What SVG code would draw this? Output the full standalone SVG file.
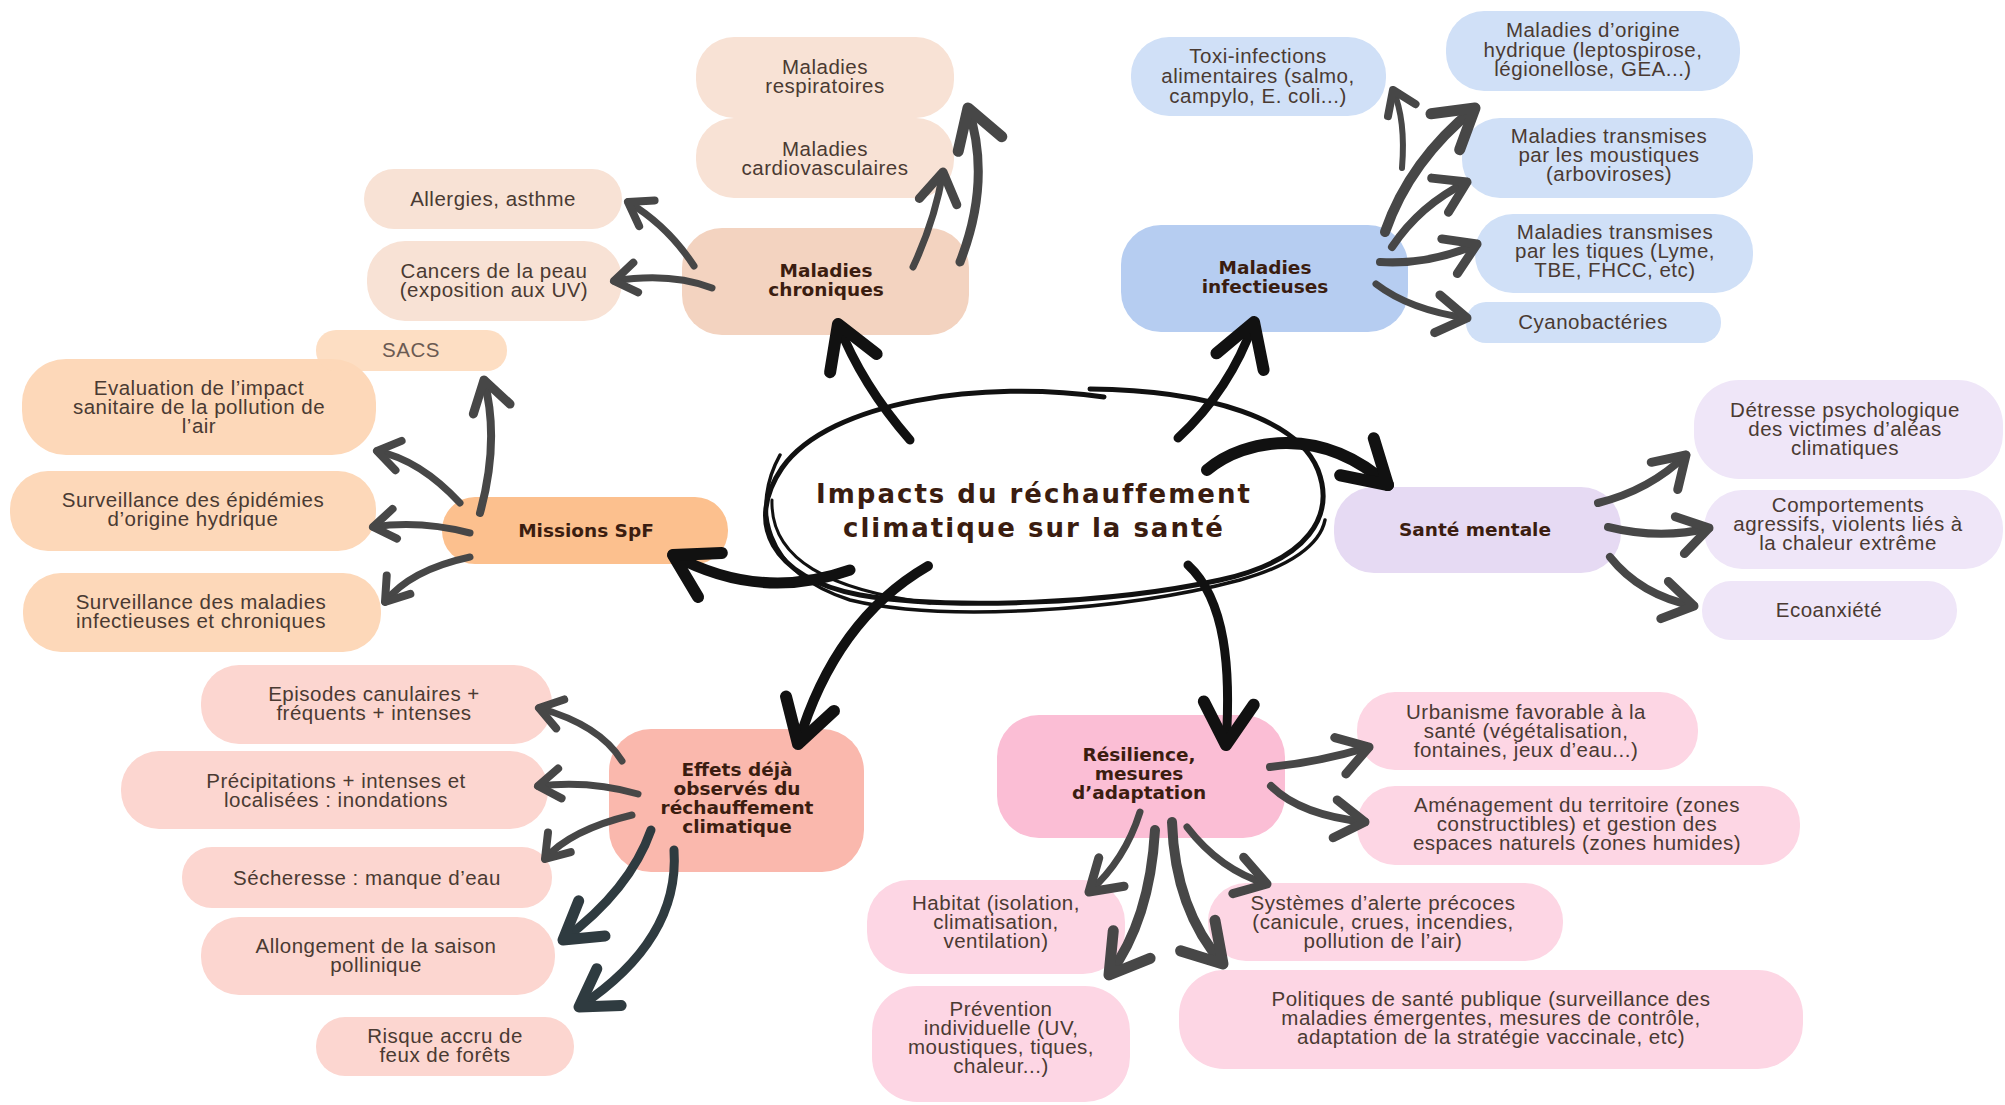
<svg xmlns="http://www.w3.org/2000/svg" width="2005" height="1105" viewBox="0 0 2005 1105">
<defs>
<style>
.t{font-family:"Liberation Sans",Arial,sans-serif;font-size:20.5px;letter-spacing:0.5px;fill:#4a3a32;text-anchor:middle}
.b{font-family:"DejaVu Sans","Liberation Sans",sans-serif;font-weight:bold;font-size:18.5px;fill:#3b1d10;text-anchor:middle}
.title{font-family:"DejaVu Sans","Liberation Sans",sans-serif;font-weight:bold;font-size:26px;letter-spacing:2px;fill:#3b1d10;text-anchor:middle}
.chrM{fill:#f3d3c0}.chr{fill:#f8e2d5}
.misM{fill:#fcc08e}.mis{fill:#fdd8b9}
.effM{fill:#fab8ad}.eff{fill:#fcd6d0}
.resM{fill:#fbbed5}.res{fill:#fdd6e4}
.infM{fill:#b6cdf1}.inf{fill:#d0e0f7}
.menM{fill:#e6daf3}.men{fill:#efe6f8}
.g{fill:none;stroke:#474747;stroke-linecap:round}
.s{fill:none;stroke:#2f3b40;stroke-linecap:round}
.k{fill:none;stroke:#111;stroke-linecap:round}
.ring{fill:none;stroke:#111;stroke-linecap:round}
</style>
<marker id="gS" markerUnits="userSpaceOnUse" orient="auto" refX="0" refY="0" markerWidth="60" markerHeight="60" overflow="visible"><path d="M-22,-15 L0,0 L-22,15" fill="none" stroke="#474747" stroke-width="8" stroke-linejoin="round" stroke-linecap="round"/></marker>
<marker id="gM" markerUnits="userSpaceOnUse" orient="auto" refX="0" refY="0" markerWidth="60" markerHeight="60" overflow="visible"><path d="M-30,-19 L0,0 L-30,19" fill="none" stroke="#474747" stroke-width="9" stroke-linejoin="round" stroke-linecap="round"/></marker>
<marker id="gL" markerUnits="userSpaceOnUse" orient="auto" refX="0" refY="0" markerWidth="80" markerHeight="80" overflow="visible"><path d="M-38,-23 L0,0 L-38,23" fill="none" stroke="#474747" stroke-width="11" stroke-linejoin="round" stroke-linecap="round"/></marker>
<marker id="sL" markerUnits="userSpaceOnUse" orient="auto" refX="0" refY="0" markerWidth="80" markerHeight="80" overflow="visible"><path d="M-36,-22 L0,0 L-36,22" fill="none" stroke="#2f3b40" stroke-width="11" stroke-linejoin="round" stroke-linecap="round"/></marker>
<marker id="bk" markerUnits="userSpaceOnUse" orient="auto" refX="0" refY="0" markerWidth="90" markerHeight="90" overflow="visible"><path d="M-42,-25 L0,0 L-42,25" fill="none" stroke="#111" stroke-width="12" stroke-linejoin="round" stroke-linecap="round"/></marker>
</defs>
<rect width="2005" height="1105" fill="#ffffff"/>

<!-- Maladies chroniques family -->
<g id="n-respiratoires"><rect class="chr" x="696" y="37" width="258" height="81" rx="38"/><text class="t"><tspan x="825" y="74">Maladies</tspan><tspan x="825" y="93">respiratoires</tspan></text></g>
<g id="n-cardio"><rect class="chr" x="696" y="118" width="258" height="80" rx="38"/><text class="t"><tspan x="825" y="156">Maladies</tspan><tspan x="825" y="175">cardiovasculaires</tspan></text></g>
<g id="n-allergies"><rect class="chr" x="364" y="169" width="258" height="60" rx="30"/><text class="t" x="493" y="206">Allergies, asthme</text></g>
<g id="n-cancers"><rect class="chr" x="367" y="241" width="255" height="80" rx="38"/><text class="t"><tspan x="494" y="278">Cancers de la peau</tspan><tspan x="494" y="297">(exposition aux UV)</tspan></text></g>
<g id="n-chroniques"><rect class="chrM" x="682" y="228" width="287" height="107" rx="40"/><text class="b"><tspan x="826" y="277">Maladies</tspan><tspan x="826" y="296">chroniques</tspan></text></g>

<!-- Missions SpF family -->
<g id="n-evaluation"><rect class="mis" x="22" y="359" width="354" height="96" rx="44"/><text class="t"><tspan x="199" y="395">Evaluation de l’impact</tspan><tspan x="199" y="414">sanitaire de la pollution de</tspan><tspan x="199" y="433">l’air</tspan></text></g>
<g id="n-sacs"><rect class="mis" x="316" y="330" width="191" height="41" rx="20" opacity="0.85"/><text class="t" x="411" y="357" style="fill:#6b5a52">SACS</text></g>
<g id="n-epidemies"><rect class="mis" x="10" y="471" width="366" height="80" rx="38"/><text class="t"><tspan x="193" y="507">Surveillance des épidémies</tspan><tspan x="193" y="526">d’origine hydrique</tspan></text></g>
<g id="n-surv-maladies"><rect class="mis" x="23" y="573" width="358" height="79" rx="38"/><text class="t"><tspan x="201" y="609">Surveillance des maladies</tspan><tspan x="201" y="628">infectieuses et chroniques</tspan></text></g>
<g id="n-missions"><rect class="misM" x="442" y="497" width="286" height="67" rx="33"/><text class="b" x="586" y="537">Missions SpF</text></g>

<!-- Effets family -->
<g id="n-episodes"><rect class="eff" x="201" y="665" width="351" height="79" rx="38"/><text class="t"><tspan x="374" y="701">Episodes canulaires +</tspan><tspan x="374" y="720">fréquents + intenses</tspan></text></g>
<g id="n-precipitations"><rect class="eff" x="121" y="751" width="427" height="78" rx="38"/><text class="t"><tspan x="336" y="788">Précipitations + intenses et</tspan><tspan x="336" y="807">localisées : inondations</tspan></text></g>
<g id="n-secheresse"><rect class="eff" x="182" y="847" width="370" height="61" rx="30"/><text class="t" x="367" y="885">Sécheresse : manque d’eau</text></g>
<g id="n-allongement"><rect class="eff" x="201" y="917" width="354" height="78" rx="38"/><text class="t"><tspan x="376" y="953">Allongement de la saison</tspan><tspan x="376" y="972">pollinique</tspan></text></g>
<g id="n-risque"><rect class="eff" x="316" y="1017" width="258" height="59" rx="29"/><text class="t"><tspan x="445" y="1043">Risque accru de</tspan><tspan x="445" y="1062">feux de forêts</tspan></text></g>
<g id="n-effets"><rect class="effM" x="609" y="729" width="255" height="143" rx="42"/><text class="b"><tspan x="737" y="776">Effets déjà</tspan><tspan x="737" y="795">observés du</tspan><tspan x="737" y="814">réchauffement</tspan><tspan x="737" y="833">climatique</tspan></text></g>

<!-- Résilience family -->
<g id="n-urbanisme"><rect class="res" x="1357" y="692" width="341" height="78" rx="38"/><text class="t"><tspan x="1526" y="719">Urbanisme favorable à la</tspan><tspan x="1526" y="738">santé (végétalisation,</tspan><tspan x="1526" y="757">fontaines, jeux d’eau...)</tspan></text></g>
<g id="n-amenagement"><rect class="res" x="1357" y="786" width="443" height="79" rx="38"/><text class="t"><tspan x="1577" y="812">Aménagement du territoire (zones</tspan><tspan x="1577" y="831">constructibles) et gestion des</tspan><tspan x="1577" y="850">espaces naturels (zones humides)</tspan></text></g>
<g id="n-systemes"><rect class="res" x="1208" y="883" width="355" height="78" rx="38"/><text class="t"><tspan x="1383" y="910">Systèmes d’alerte précoces</tspan><tspan x="1383" y="929">(canicule, crues, incendies,</tspan><tspan x="1383" y="948">pollution de l’air)</tspan></text></g>
<g id="n-politiques"><rect class="res" x="1179" y="970" width="624" height="99" rx="45"/><text class="t"><tspan x="1491" y="1006">Politiques de santé publique (surveillance des</tspan><tspan x="1491" y="1025">maladies émergentes, mesures de contrôle,</tspan><tspan x="1491" y="1044">adaptation de la stratégie vaccinale, etc)</tspan></text></g>
<g id="n-habitat"><rect class="res" x="867" y="880" width="258" height="94" rx="42"/><text class="t"><tspan x="996" y="910">Habitat (isolation,</tspan><tspan x="996" y="929">climatisation,</tspan><tspan x="996" y="948">ventilation)</tspan></text></g>
<g id="n-prevention"><rect class="res" x="872" y="986" width="258" height="116" rx="45"/><text class="t"><tspan x="1001" y="1016">Prévention</tspan><tspan x="1001" y="1035">individuelle (UV,</tspan><tspan x="1001" y="1054">moustiques, tiques,</tspan><tspan x="1001" y="1073">chaleur...)</tspan></text></g>
<g id="n-resilience"><rect class="resM" x="997" y="715" width="288" height="123" rx="42"/><text class="b"><tspan x="1139" y="761">Résilience,</tspan><tspan x="1139" y="780">mesures</tspan><tspan x="1139" y="799">d’adaptation</tspan></text></g>

<!-- Maladies infectieuses family -->
<g id="n-toxi"><rect class="inf" x="1131" y="37" width="255" height="79" rx="38"/><text class="t"><tspan x="1258" y="63">Toxi-infections</tspan><tspan x="1258" y="83">alimentaires (salmo,</tspan><tspan x="1258" y="103">campylo, E. coli...)</tspan></text></g>
<g id="n-hydrique"><rect class="inf" x="1446" y="11" width="294" height="80" rx="38"/><text class="t"><tspan x="1593" y="37">Maladies d’origine</tspan><tspan x="1593" y="57">hydrique (leptospirose,</tspan><tspan x="1593" y="76">légionellose, GEA...)</tspan></text></g>
<g id="n-moustiques"><rect class="inf" x="1462" y="118" width="291" height="80" rx="38"/><text class="t"><tspan x="1609" y="143">Maladies transmises</tspan><tspan x="1609" y="162">par les moustiques</tspan><tspan x="1609" y="181">(arboviroses)</tspan></text></g>
<g id="n-tiques"><rect class="inf" x="1475" y="214" width="278" height="79" rx="38"/><text class="t"><tspan x="1615" y="239">Maladies transmises</tspan><tspan x="1615" y="258">par les tiques (Lyme,</tspan><tspan x="1615" y="277">TBE, FHCC, etc)</tspan></text></g>
<g id="n-cyano"><rect class="inf" x="1466" y="302" width="255" height="41" rx="20"/><text class="t" x="1593" y="329">Cyanobactéries</text></g>
<g id="n-infectieuses"><rect class="infM" x="1121" y="225" width="287" height="107" rx="40"/><text class="b"><tspan x="1265" y="274">Maladies</tspan><tspan x="1265" y="293">infectieuses</tspan></text></g>

<!-- Santé mentale family -->
<g id="n-detresse"><rect class="men" x="1694" y="380" width="309" height="99" rx="45"/><text class="t"><tspan x="1845" y="417">Détresse psychologique</tspan><tspan x="1845" y="436">des victimes d’aléas</tspan><tspan x="1845" y="455">climatiques</tspan></text></g>
<g id="n-comportements"><rect class="men" x="1704" y="490" width="299" height="79" rx="38"/><text class="t"><tspan x="1848" y="512">Comportements</tspan><tspan x="1848" y="531">agressifs, violents liés à</tspan><tspan x="1848" y="550">la chaleur extrême</tspan></text></g>
<g id="n-ecoanxiete"><rect class="men" x="1702" y="581" width="255" height="59" rx="29"/><text class="t" x="1829" y="617">Ecoanxiété</text></g>
<g id="n-sante-mentale"><rect class="menM" x="1334" y="487" width="287" height="86" rx="40"/><text class="b" x="1475" y="536">Santé mentale</text></g>

<!-- Central node -->
<g id="n-center">
<path class="ring" stroke-width="5" d="M1104 397 C985 380 830 400 782 468 C745 522 770 578 860 595 C950 610 1110 604 1220 580 C1310 560 1335 515 1318 470 C1298 420 1210 390 1090 389"/>
<path class="ring" stroke-width="3.5" d="M780 455 C752 505 762 572 850 600 C940 622 1120 612 1240 580 C1290 566 1320 545 1325 520"/>
<path class="ring" stroke-width="3" d="M772 500 C770 560 830 590 930 603"/>
<text class="title"><tspan x="1034" y="503">Impacts du réchauffement</tspan><tspan x="1034" y="537">climatique sur la santé</tspan></text>
</g>

<!-- Connectors -->
<g id="connectors">
<path class="k" stroke-width="9" marker-end="url(#bk)" d="M910 440 Q862 385 838 324"/>
<path class="k" stroke-width="9" marker-end="url(#bk)" d="M1178 438 Q1230 390 1254 322"/>
<path class="k" stroke-width="12" marker-end="url(#bk)" d="M1207 470 C1245 438 1322 425 1388 485"/>
<path class="k" stroke-width="11" marker-end="url(#bk)" d="M850 570 Q760 602 673 555"/>
<path class="k" stroke-width="10" marker-end="url(#bk)" d="M928 566 Q835 620 798 744"/>
<path class="k" stroke-width="9" marker-end="url(#bk)" d="M1188 565 C1226 600 1231 670 1226 745"/>
<path class="g" stroke-width="7" marker-end="url(#gS)" d="M694 266 Q668 226 628 202"/>
<path class="g" stroke-width="7" marker-end="url(#gS)" d="M712 288 Q670 272 614 281"/>
<path class="g" stroke-width="7" marker-end="url(#gM)" d="M913 267 Q935 220 943 172"/>
<path class="g" stroke-width="9" marker-end="url(#gL)" d="M960 262 Q992 180 968 108"/>
<path class="g" stroke-width="8" marker-end="url(#gM)" d="M480 513 Q500 440 484 380"/>
<path class="g" stroke-width="7" marker-end="url(#gS)" d="M460 503 Q420 460 377 451"/>
<path class="g" stroke-width="7" marker-end="url(#gS)" d="M470 533 Q420 520 373 527"/>
<path class="g" stroke-width="7" marker-end="url(#gS)" d="M470 557 Q410 570 385 602"/>
<path class="g" stroke-width="7" marker-end="url(#gS)" d="M622 761 Q600 725 539 708"/>
<path class="g" stroke-width="7" marker-end="url(#gS)" d="M638 794 Q590 780 538 786"/>
<path class="g" stroke-width="7" marker-end="url(#gS)" d="M632 815 Q570 830 545 859"/>
<path class="s" stroke-width="9" marker-end="url(#sL)" d="M651 830 Q630 890 563 940"/>
<path class="s" stroke-width="9" marker-end="url(#sL)" d="M674 850 Q680 940 579 1007"/>
<path class="g" stroke-width="8" marker-end="url(#gM)" d="M1270 767 Q1320 762 1369 747"/>
<path class="g" stroke-width="8" marker-end="url(#gM)" d="M1271 786 Q1300 815 1365 822"/>
<path class="g" stroke-width="7" marker-end="url(#gM)" d="M1140 812 Q1125 860 1089 892"/>
<path class="g" stroke-width="10" marker-end="url(#gL)" d="M1155 830 Q1150 920 1109 975"/>
<path class="g" stroke-width="10" marker-end="url(#gL)" d="M1172 822 Q1175 910 1223 964"/>
<path class="g" stroke-width="7" marker-end="url(#gM)" d="M1187 827 Q1220 870 1267 884"/>
<path class="g" stroke-width="6" marker-end="url(#gS)" d="M1402 168 Q1406 120 1393 90"/>
<path class="g" stroke-width="10" marker-end="url(#gL)" d="M1385 232 Q1410 160 1475 108"/>
<path class="g" stroke-width="8" marker-end="url(#gM)" d="M1392 247 Q1420 205 1467 182"/>
<path class="g" stroke-width="8" marker-end="url(#gM)" d="M1380 262 Q1430 265 1477 244"/>
<path class="g" stroke-width="7" marker-end="url(#gM)" d="M1376 284 Q1410 310 1467 318"/>
<path class="g" stroke-width="8" marker-end="url(#gM)" d="M1598 503 Q1650 490 1686 455"/>
<path class="g" stroke-width="8" marker-end="url(#gM)" d="M1608 527 Q1660 540 1709 528"/>
<path class="g" stroke-width="8" marker-end="url(#gM)" d="M1610 557 Q1640 595 1694 606"/>
</g>
</svg>
